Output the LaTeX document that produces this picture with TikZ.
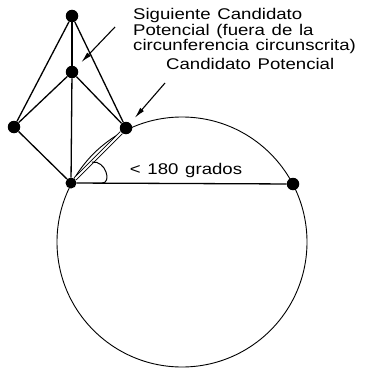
\documentclass[tikz,border=0pt]{standalone}
\usepackage{fontspec}
\setmainfont[FakeStretch=1.2, WordSpace=1.3]{Liberation Sans}
\usetikzlibrary{arrows.meta, calc}

\begin{document}
\begin{tikzpicture}[x=1pt, y=1pt,
  dot/.style={circle, fill=black, inner sep=0pt, minimum size=12.5pt},
  edge/.style={line width=1.3pt},
  lbl/.style={font=\fontsize{15.5}{14}\selectfont, inner sep=0pt, anchor=west, align=left},
  ptr/.style={line width=1.1pt, -{Latex[length=11pt,width=5pt]}, shorten >=7pt}]
\useasboundingbox (0,0) rectangle (364,-369);

% circumscribed circle
\draw[line width=0.9pt] (182,-242) circle[radius=125];

\node[dot] (T) at (72,-16) {};
\node[dot] (M) at (72,-72) {};
\node[dot] (L) at (14,-127) {};
\node[dot] (R) at (126,-128) {};
\node[dot, minimum size=11pt] (B) at (71,-183) {};
\node[dot] (C) at (293,-184) {};

\draw[edge] (T) -- (L);
\draw[edge] (T) -- (R);
\draw[edge] (T) -- (M);
\draw[edge] (M) -- (L);
\draw[edge] (M) -- (R);
\draw[edge] (M) -- (B);
\draw[edge] (L) -- (B);
\draw[edge] (B) -- (C);
\draw[line width=0.9pt, double, double distance=1.8pt] (B) -- (R);

% angle mark
\draw[line width=1pt] ($(B)!0.38!(R)$) .. controls +(14,2) and +(10,0) .. ($(B)!0.14!(C)$);

\node[lbl] (sig) at (133,-31) {Siguiente Candidato\\Potencial (fuera de la\\circunferencia circunscrita)};
\node[lbl] (cand) at (166,-64) {Candidato Potencial};
\node[lbl, anchor=center] (ang) at (186,-170) {< 180 grados};

\coordinate (sigtail) at (115,-27);
\coordinate (candtail) at (165,-83);
\draw[ptr] (sigtail) -- (M);
\draw[ptr] (candtail) -- (R);
\end{tikzpicture}
\end{document}
